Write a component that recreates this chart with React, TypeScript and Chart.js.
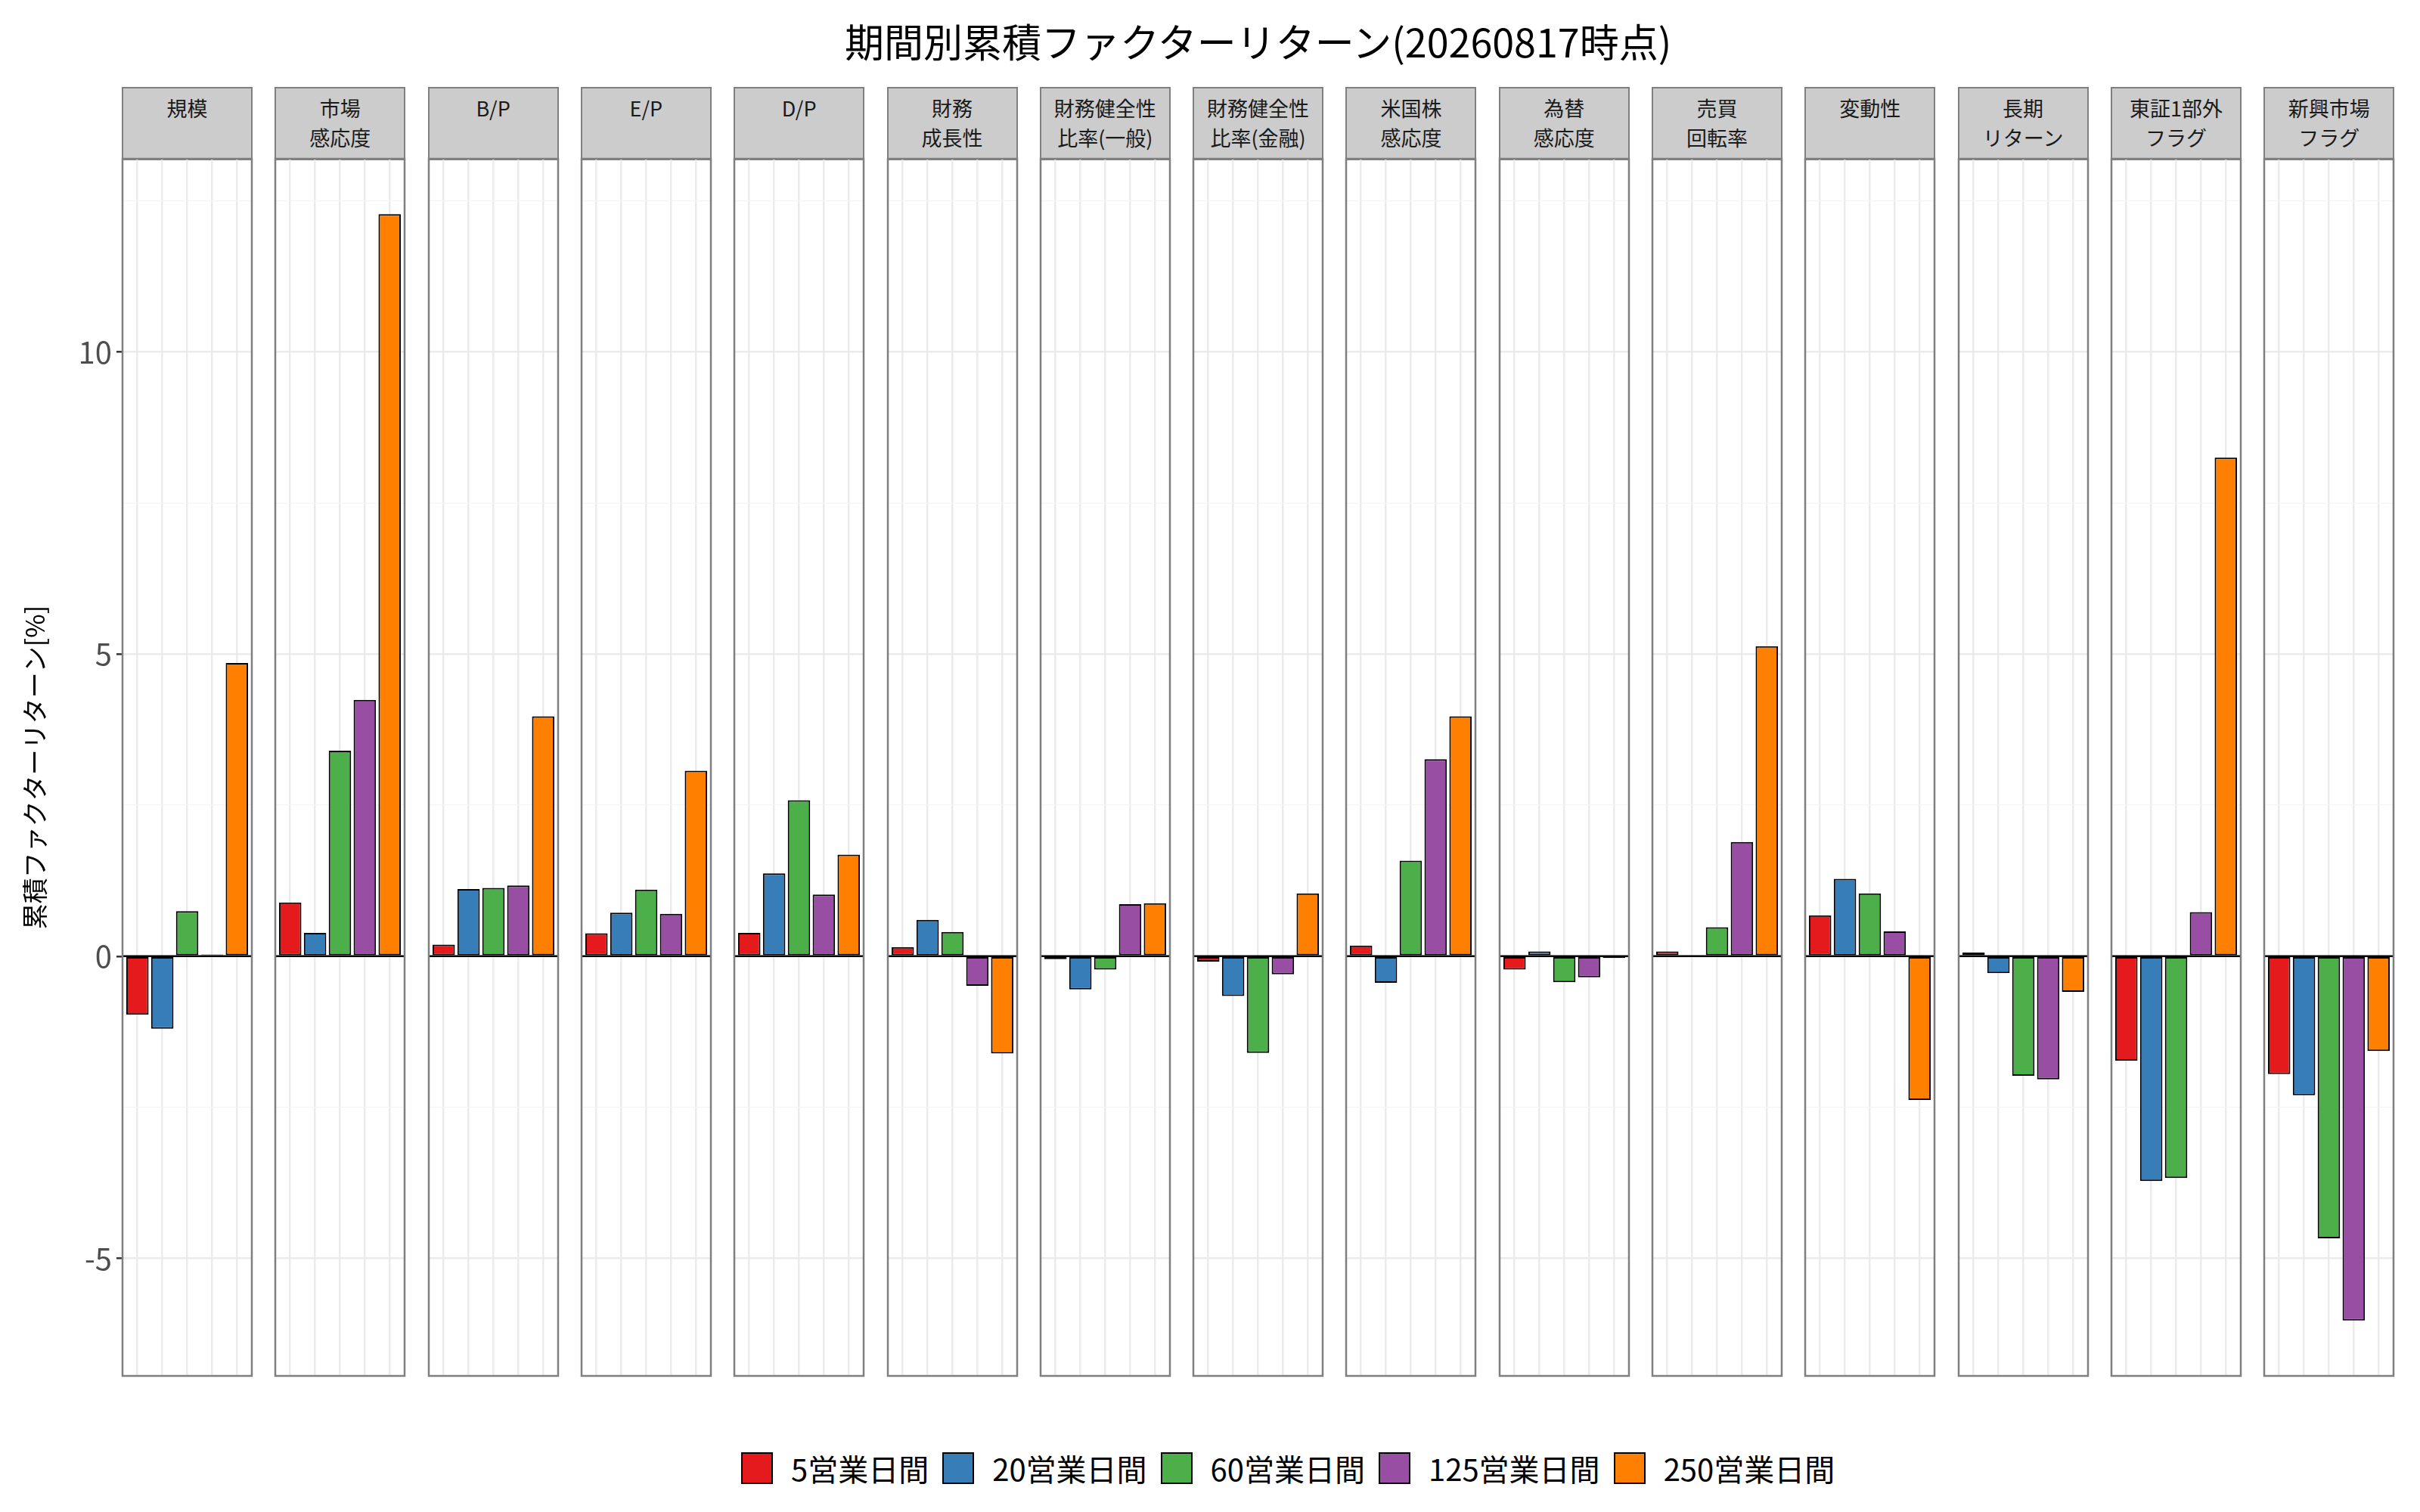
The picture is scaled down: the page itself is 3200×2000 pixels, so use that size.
import React, { useEffect, useRef } from 'react';
import { Chart, registerables } from 'chart.js';

Chart.register(...registerables);

const TITLE = '期間別累積ファクターリターン(20260817時点)';
const Y_TITLE = '累積ファクターリターン[%]';

const FACTORS = [
  '規模', '市場\n感応度', 'B/P', 'E/P', 'D/P', '財務\n成長性', '財務健全性\n比率(一般)',
  '財務健全性\n比率(金融)', '米国株\n感応度', '為替\n感応度', '売買\n回転率', '変動性',
  '長期\nリターン', '東証1部外\nフラグ', '新興市場\nフラグ',
];

const PERIODS = ['5営業日間', '20営業日間', '60営業日間', '125営業日間', '250営業日間'];
const COLORS = ['#E41A1C', '#377EB8', '#4DAF4A', '#984EA3', '#FF7F00'];

// one value per factor, same order as FACTORS
const R5 = [-0.97, 0.89, 0.19, 0.38, 0.385, 0.15, -0.05, -0.09, 0.175, -0.22, 0.08, 0.675, 0.06, -1.73, -1.95];
const R20 = [-1.2, 0.385, 1.11, 0.72, 1.37, 0.6, -0.55, -0.66, -0.44, 0.08, 0.02, 1.28, -0.28, -3.72, -2.3];
const R60 = [0.745, 3.4, 1.13, 1.1, 2.58, 0.4, -0.22, -1.6, 1.58, -0.43, 0.48, 1.04, -1.98, -3.67, -4.67];
const R125 = [0.03, 4.24, 1.17, 0.7, 1.02, -0.49, 0.86, -0.3, 3.26, -0.35, 1.89, 0.41, -2.04, 0.73, -6.03];
const R250 = [4.85, 12.28, 3.97, 3.07, 1.68, -1.61, 0.875, 1.04, 3.97, -0.03, 5.13, -2.38, -0.59, 8.25, -1.57];
const SERIES = [R5, R20, R60, R125, R250];

const Y_TICKS = [-5, -2.5, 0, 2.5, 5, 7.5, 10, 12.5];
const X_TICKS = PERIODS.map((_, i) => i + 1);

const FONT = '"Noto Sans CJK JP", "Noto Sans", sans-serif';

// layout (px)
const PANEL_LEFT0 = 162;
const PITCH = 202.3;
const PANEL_W = 171;
const PANEL_TOP = 210;
const PANEL_H = 1610;
const STRIP_TOP = 115;
const PAD = 3;

// ggplot-like 5% expansion of the y range
const allVals = SERIES.flat();
const dataMin = Math.min(...allVals);
const dataMax = Math.max(...allVals);
const Y_MIN = dataMin - (dataMax - dataMin) * 0.05;
const Y_MAX = dataMax + (dataMax - dataMin) * 0.05;

const panelFrame = {
  id: 'panelFrame',
  afterDatasetsDraw(chart: any) {
    const { ctx, chartArea: a, scales } = chart;
    const y0 = scales.y.getPixelForValue(0);
    ctx.save();
    ctx.strokeStyle = '#000000';
    ctx.lineWidth = 2.5;
    ctx.beginPath();
    ctx.moveTo(a.left, y0);
    ctx.lineTo(a.right, y0);
    ctx.stroke();
    ctx.strokeStyle = '#7F7F7F';
    ctx.lineWidth = 2.5;
    ctx.strokeRect(a.left, a.top, a.right - a.left, a.bottom - a.top);
    ctx.restore();
  },
};

function Panel({ index }: { index: number }) {
  const ref = useRef<HTMLCanvasElement>(null);
  const first = index === 0;
  const left = PANEL_LEFT0 + index * PITCH;
  const canvasLeft = first ? 0 : left - PAD;
  const width = first ? left + PANEL_W + PAD : PANEL_W + 2 * PAD;
  const height = PANEL_H + 2 * PAD;

  useEffect(() => {
    if (!ref.current) return;
    const chart = new Chart(ref.current, {
      type: 'bar',
      data: {
        datasets: [
          {
            data: SERIES.map((s, i) => ({ x: X_TICKS[i], y: s[index] })),
            backgroundColor: COLORS,
            borderColor: '#000000',
            borderWidth: 2,
            borderSkipped: false,
            categoryPercentage: 0.9,
            barPercentage: 1,
          } as any,
        ],
      },
      options: {
        responsive: false,
        animation: false,
        events: [],
        layout: { padding: { top: PAD, bottom: PAD, right: PAD, left: first ? 0 : PAD } },
        plugins: { legend: { display: false }, tooltip: { enabled: false } },
        scales: {
          x: {
            type: 'linear',
            min: 0.4,
            max: 5.6,
            offset: false,
            afterBuildTicks: (s: any) => {
              s.ticks = X_TICKS.map((v) => ({ value: v }));
            },
            ticks: { display: false },
            grid: { color: '#EBEBEB', lineWidth: 2.5, drawTicks: false, offset: false },
            border: { display: false },
          },
          y: {
            min: Y_MIN,
            max: Y_MAX,
            afterBuildTicks: (s: any) => {
              s.ticks = Y_TICKS.map((v) => ({ value: v }));
            },
            afterFit: (s: any) => {
              if (first) s.width = left;
              s.paddingTop = 0;
              s.paddingBottom = 0;
            },
            ticks: {
              display: first,
              autoSkip: false,
              padding: 6,
              color: '#4D4D4D',
              font: { family: FONT, size: 40 },
              callback: (v: any) => (Number(v) % 5 === 0 ? String(v) : ''),
            },
            grid: {
              color: (c: any) => (c.tick && c.tick.value % 5 === 0 ? '#EBEBEB' : '#F5F5F5'),
              lineWidth: (c: any) => (c.tick && c.tick.value % 5 === 0 ? 2.6 : 1.3),
              drawTicks: first,
              tickLength: 8,
              tickWidth: 2.5,
              tickColor: (c: any) => (c.tick && c.tick.value % 5 === 0 ? '#333333' : 'rgba(0,0,0,0)'),
            },
            border: { display: false },
            title: {
              display: first,
              text: Y_TITLE,
              color: '#000000',
              font: { family: FONT, size: 34 },
              padding: { top: 26, bottom: 0 },
            },
          },
        },
      } as any,
      plugins: [panelFrame],
    });
    return () => {
      chart.destroy();
    };
  }, [index]);

  return (
    <>
      <div
        style={{
          position: 'absolute',
          left: left - 1,
          top: STRIP_TOP,
          width: PANEL_W + 2,
          height: PANEL_TOP - STRIP_TOP + 2,
          boxSizing: 'border-box',
          background: '#CCCCCC',
          border: '2.5px solid #7F7F7F',
          color: '#1A1A1A',
          fontSize: 27,
          lineHeight: '39px',
          paddingTop: 6,
          textAlign: 'center',
          whiteSpace: 'pre-line',
        }}
      >
        {FACTORS[index]}
      </div>
      <canvas
        ref={ref}
        width={width}
        height={height}
        style={{ position: 'absolute', left: canvasLeft, top: PANEL_TOP - PAD, width, height }}
      />
    </>
  );
}

export default function App() {
  return (
    <div
      style={{
        position: 'absolute',
        left: 0,
        top: 0,
        width: 3200,
        height: 2000,
        background: '#FFFFFF',
        fontFamily: FONT,
        overflow: 'hidden',
      }}
    >
      <div
        style={{
          position: 'absolute',
          left: PANEL_LEFT0,
          width: 14 * PITCH + PANEL_W,
          top: 22,
          fontSize: 52,
          lineHeight: '64px',
          textAlign: 'center',
          color: '#000000',
        }}
      >
        {TITLE}
      </div>
      {FACTORS.map((_, i) => (
        <Panel key={i} index={i} />
      ))}
      <div
        style={{
          position: 'absolute',
          left: 980,
          top: 1919,
          height: 46,
          display: 'flex',
          alignItems: 'center',
          color: '#000000',
          fontSize: 40,
        }}
      >
        {PERIODS.map((p, i) => (
          <div key={p} style={{ display: 'flex', alignItems: 'center', marginRight: 18 }}>
            <div
              style={{
                width: 42,
                height: 42,
                boxSizing: 'border-box',
                background: COLORS[i],
                border: '2px solid #000000',
                marginRight: 24,
              }}
            />
            <span>{p}</span>
          </div>
        ))}
      </div>
    </div>
  );
}
